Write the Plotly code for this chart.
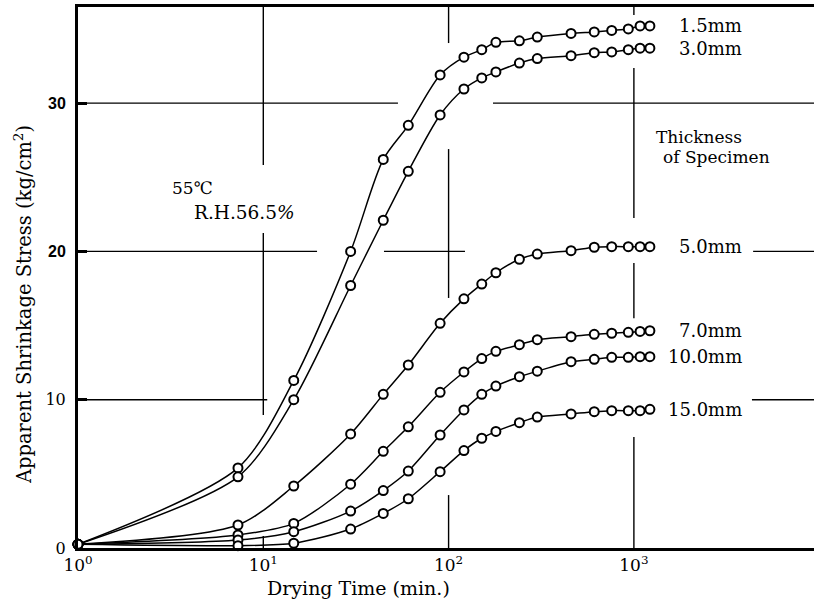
import math
import plotly.graph_objects as go

# ---- data ----
time_min = [1, 7.3, 14.6, 29.6, 44.4, 60.6, 90, 121, 151, 180, 241, 301, 458, 611, 759, 933, 1080, 1220]

stress_1_5mm = [0.25, 5.4, 11.3, 20.0, 26.2, 28.5, 31.9, 33.1, 33.6, 34.1, 34.2, 34.45, 34.7, 34.8, 34.9, 35.0, 35.2, 35.2]
stress_3_0mm = [0.25, 4.8, 10.0, 17.7, 22.1, 25.4, 29.2, 30.95, 31.7, 32.1, 32.7, 33.0, 33.2, 33.4, 33.45, 33.6, 33.7, 33.7]
stress_5_0mm = [0.25, 1.55, 4.18, 7.69, 10.36, 12.34, 15.15, 16.8, 17.8, 18.56, 19.47, 19.82, 20.05, 20.28, 20.32, 20.32, 20.32, 20.32]
stress_7_0mm = [0.25, 0.88, 1.66, 4.3, 6.52, 8.17, 10.5, 11.87, 12.77, 13.26, 13.71, 14.05, 14.25, 14.41, 14.48, 14.54, 14.6, 14.65]
stress_10_0mm = [0.25, 0.54, 1.1, 2.49, 3.87, 5.19, 7.62, 9.31, 10.36, 10.92, 11.55, 11.92, 12.56, 12.72, 12.86, 12.86, 12.9, 12.9]
stress_15_0mm = [0.25, 0.16, 0.32, 1.28, 2.33, 3.32, 5.15, 6.57, 7.4, 7.86, 8.45, 8.83, 9.04, 9.19, 9.26, 9.26, 9.26, 9.35]

series_labels = ["1.5mm", "3.0mm", "5.0mm", "7.0mm", "10.0mm", "15.0mm"]
series_values = [stress_1_5mm, stress_3_0mm, stress_5_0mm, stress_7_0mm, stress_10_0mm, stress_15_0mm]

x_tick_vals = [1, 10, 100, 1000]
x_tick_text = ["10<sup>0</sup>", "10<sup>1</sup>", "10<sup>2</sup>", "10<sup>3</sup>"]
y_tick_vals = [0, 10, 20, 30]
y_tick_text = ["0", "10",
               "<span style=\"font-family:'Liberation Sans'\"><b>20</b></span>",
               "<span style=\"font-family:'Liberation Sans'\"><b>30</b></span>"]

SERIF = "DejaVu Serif"
X_MAX_LOG = 3.972
Y_MAX = 36.48

fig = go.Figure()
for lab, vals in zip(series_labels, series_values):
    fig.add_trace(go.Scatter(
        x=time_min, y=vals, mode="lines+markers", name=lab,
        line=dict(color="black", width=1.5, shape="spline", smoothing=0.8),
        marker=dict(symbol="circle", size=9, color="white",
                    line=dict(color="black", width=2)),
        cliponaxis=False, showlegend=False,
    ))

# broken guide lines (styling of the original figure)
TOP = Y_MAX
XEND = 10 ** X_MAX_LOG
grid_v = [
    (10, 25.83, TOP), (10, 8.97, 21.24), (10, 0, 0.81),
    (100, 34.05, TOP), (100, 16.86, 26.9), (100, 0, 3.57),
    (1000, 35.94, TOP), (1000, 22.25, 32.37), (1000, 15.5, 19.22), (1000, 0, 7.48),
]
grid_h = [
    (30, 1, 53.3), (30, 173.6, XEND),
    (20, 1, 19.5), (20, 44.8, 122.6), (20, 4400, XEND),
    (10, 1, 10.5), (10, 4337, XEND),
]
shapes = []
for xv, y0, y1 in grid_v:
    shapes.append(dict(type="line", xref="x", yref="y", x0=xv, x1=xv, y0=y0, y1=y1,
                       line=dict(color="black", width=1.4), layer="below"))
for yv, x0, x1 in grid_h:
    shapes.append(dict(type="line", xref="x", yref="y", x0=x0, x1=x1, y0=yv, y1=yv,
                       line=dict(color="black", width=1.4), layer="below"))

annotations = []
label_x = 3.594
for lab, vals in zip(series_labels, series_values):
    annotations.append(dict(x=label_x, y=vals[-1], xref="x", yref="y", text=lab,
                            showarrow=False, xanchor="right", yanchor="middle",
                            font=dict(family=SERIF, size=18, color="black")))

annotations += [
    dict(x=0.125, y=0.665, xref="paper", yref="paper", text="55℃", showarrow=False,
         xanchor="left", yanchor="middle", font=dict(family=SERIF, size=17, color="black")),
    dict(x=0.155, y=0.621, xref="paper", yref="paper", text="R.H.56.5<i>%</i>", showarrow=False,
         xanchor="left", yanchor="middle", font=dict(family=SERIF, size=18.5, color="black")),
    dict(x=0.7826, y=0.760, xref="paper", yref="paper", text="Thickness", showarrow=False,
         xanchor="left", yanchor="middle", font=dict(family=SERIF, size=17, color="black")),
    dict(x=0.792, y=0.7227, xref="paper", yref="paper", text="of Specimen", showarrow=False,
         xanchor="left", yanchor="middle", font=dict(family=SERIF, size=17, color="black")),
    dict(x=0.381, y=-0.074, xref="paper", yref="paper", text="Drying Time (min.)", showarrow=False,
         xanchor="center", yanchor="middle", font=dict(family=SERIF, size=19, color="black")),
    dict(x=-0.0747, y=0.449, xref="paper", yref="paper", text="Apparent Shrinkage Stress (kg/cm<sup>2</sup>)",
         showarrow=False, textangle=-90, xanchor="center", yanchor="middle",
         font=dict(family=SERIF, size=19.5, color="black")),
]

fig.update_layout(
    width=814, height=602, autosize=False,
    margin=dict(l=78, r=0, t=7, b=54),
    paper_bgcolor="white", plot_bgcolor="white",
    shapes=shapes, annotations=annotations,
    xaxis=dict(type="log", range=[0, X_MAX_LOG], showgrid=False, zeroline=False,
               tickvals=x_tick_vals, ticktext=x_tick_text, ticks="",
               showline=True, mirror=True, linecolor="black", linewidth=3,
               tickfont=dict(family=SERIF, size=17, color="black")),
    yaxis=dict(range=[0, Y_MAX], showgrid=False, zeroline=False,
               tickvals=y_tick_vals, ticktext=y_tick_text,
               ticks="inside", ticklen=9, tickwidth=3, tickcolor="black",
               showline=True, linecolor="black", linewidth=3,
               ticklabelstandoff=6,
               tickfont=dict(family=SERIF, size=16, color="black")),
)

fig.write_html("out.html")
